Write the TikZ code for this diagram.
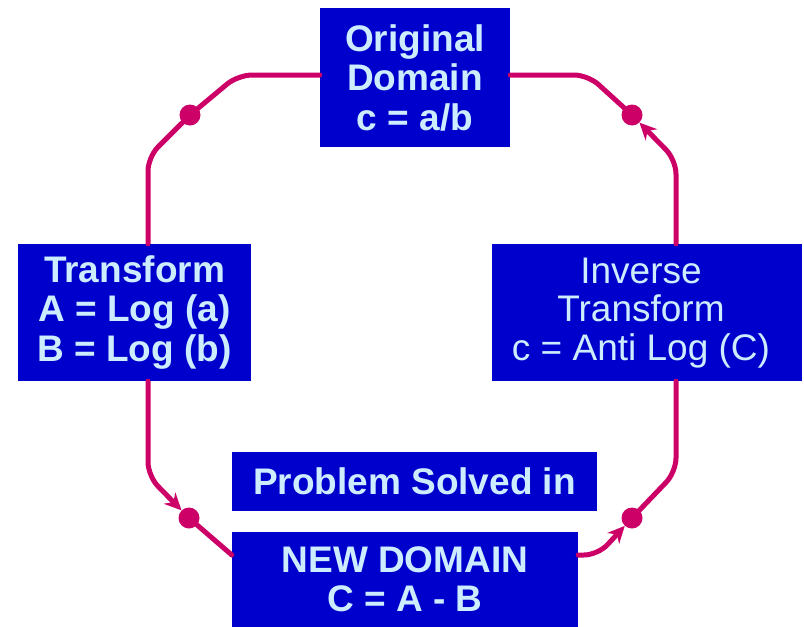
\documentclass[tikz,border=0pt]{standalone}
\usepackage{fontspec}
\setmainfont{Liberation Sans}
\usetikzlibrary{arrows.meta}
\definecolor{boxblue}{RGB}{0,0,204}
\definecolor{txtblue}{RGB}{204,236,255}
\definecolor{linemag}{RGB}{204,0,102}
\tikzset{
  box/.style={fill=boxblue, draw=none, inner sep=0pt, text=txtblue, align=center,
    font=\fontsize{37}{39.5}\selectfont\bfseries},
  plainbox/.style={fill=boxblue, draw=none, inner sep=0pt},
  plaintxt/.style={inner sep=0pt, text=txtblue, align=center, font=\fontsize{37}{38.5}\selectfont},
  conn/.style={draw=linemag, line width=5pt, rounded corners=14pt, line cap=round},
  arr/.style={conn, -{Stealth[length=17pt,width=16pt]}},
  dotn/.style={circle, fill=linemag, inner sep=0pt, minimum size=21pt}
}
\begin{document}
\begin{tikzpicture}[x=1pt,y=-1pt]
\useasboundingbox (0,0) rectangle (804,627);
% boxes
\node[box, minimum width=190pt, minimum height=139pt] (orig) at (415,77.5) {Original\\Domain\\c = a/b};
\node[box, minimum width=233pt, minimum height=137pt] (trans) at (134.5,312.5) {Transform\\A = Log (a)\\B = Log (b)};
\node[plainbox, minimum width=310pt, minimum height=137pt] (inv) at (647,312.5) {};
\node[plaintxt] (invtxt) at (641,313) {Inverse\\Transform\\c = Anti Log (C)};
\node[box, minimum width=365pt, minimum height=59pt] (prob) at (414.5,481.5) {Problem Solved in};
\node[box, minimum width=346pt, minimum height=95pt] (new) at (405,579.5) {NEW DOMAIN\\C = A - B};
% dots
\node[dotn] (d1) at (190,115) {};
\node[dotn] (d2) at (189,518) {};
\node[dotn] (d3) at (632,518) {};
\node[dotn] (d4) at (632,115) {};
% corners
\coordinate (c1) at (238,75);
\coordinate (c2) at (148,157);
\coordinate (c3) at (148,476);
\coordinate (c4) at (598,555);
\coordinate (c5) at (676,472);
\coordinate (c6) at (676,160);
\coordinate (c7) at (588,75);
% connectors
\draw[conn] ([yshift=2.5pt]orig.west) -- (c1) -- (d1.center) -- (c2) -- ([xshift=13.5pt]trans.north);
\draw[arr] ([xshift=13.5pt]trans.south) -- (c3) -- (d2);
\draw[conn] (d2.center) -- ([yshift=24.5pt]new.west);
\draw[arr] ([yshift=24.5pt]new.east) -- (c4) -- (d3);
\draw[conn] (d3.center) -- (c5) -- ([xshift=29pt]inv.south);
\draw[arr] ([xshift=29pt]inv.north) -- (c6) -- (d4);
\draw[conn] (d4.center) -- (c7) -- ([yshift=2.5pt]orig.east);
\end{tikzpicture}
\end{document}
